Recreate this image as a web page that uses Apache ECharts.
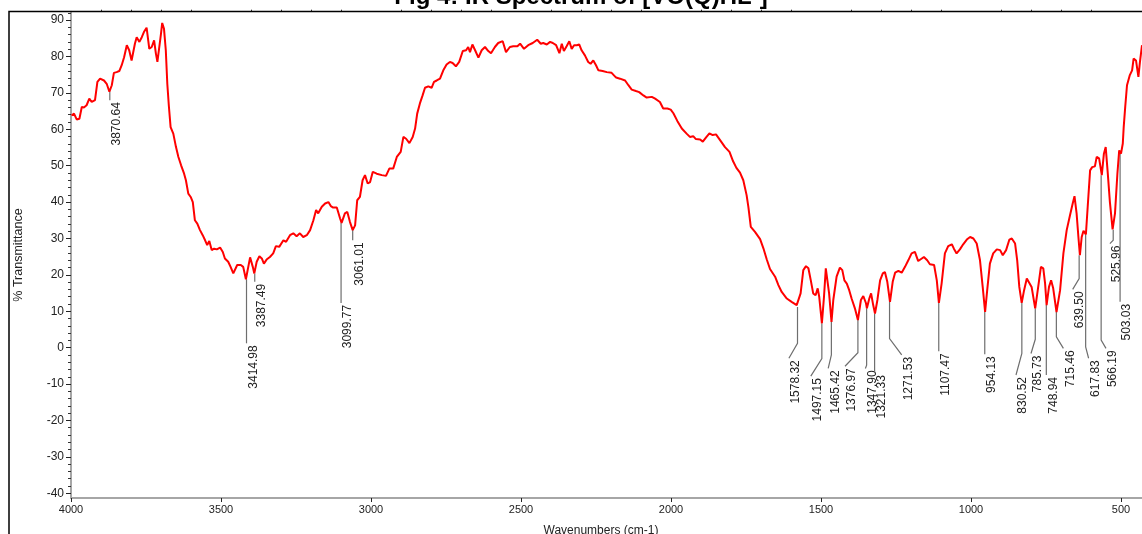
<!DOCTYPE html>
<html>
<head>
<meta charset="utf-8">
<style>
html,body{margin:0;padding:0;background:#fff;}
#chart{width:1142px;height:534px;}
</style>
<script src="https://cdn.jsdelivr.net/npm/echarts@6/dist/echarts.min.js"></script>
</head>
<body>
<div id="chart"></div>
<script>
// ---- data ----
const wavenumbers = [
3998,3990,3981,3972,3964,3957,3948,3939,3931,3920,
3912,3903,3890,3881,3872,3864,3857,3848,3839,3831,
3823,3814,3806,3798,3792,3787,3781,3772,3764,3757,
3748,3739,3731,3723,3717,3712,3706,3700,3696,3690,
3684,3679,3674,3668,3659,3650,3642,3633,3623,3617,
3609,3601,3594,3587,3579,3570,3561,3553,3546,3539,
3531,3523,3514,3503,3494,3487,3476,3468,3459,3446,
3434,3426,3417,3403,3394,3389,3381,3372,3364,3357,
3348,3337,3326,3317,3306,3292,3283,3270,3259,3248,
3237,3226,3214,3203,3192,3183,3176,3164,3153,3142,
3134,3126,3114,3103,3098,3087,3079,3070,3061,3053,
3046,3037,3028,3020,3011,3003,2994,2981,2964,2950,
2939,2926,2914,2901,2892,2883,2872,2861,2853,2846,
2837,2828,2820,2809,2798,2790,2781,2770,2759,2748,
2737,2728,2717,2706,2694,2683,2676,2670,2662,2653,
2642,2631,2620,2609,2600,2587,2576,2561,2550,2537,
2526,2512,2503,2490,2476,2461,2446,2434,2426,2414,
2403,2394,2383,2372,2364,2357,2348,2339,2331,2323,
2314,2306,2298,2287,2276,2268,2259,2250,2242,2228,
2214,2198,2183,2170,2153,2142,2131,2117,2106,2092,
2081,2064,2053,2037,2026,2012,2001,1992,1979,1964,
1948,1937,1926,1917,1903,1894,1883,1872,1861,1850,
1837,1820,1805,1793,1782,1770,1759,1748,1742,1734,
1720,1703,1692,1681,1670,1653,1642,1631,1614,1598,
1581,1576,1568,1559,1550,1542,1534,1526,1518,1511,
1506,1497,1490,1484,1479,1473,1465,1459,1448,1437,
1429,1422,1414,1406,1398,1387,1377,1367,1359,1350,
1347,1339,1333,1326,1320,1312,1303,1294,1287,1279,
1270,1261,1253,1242,1231,1220,1209,1198,1187,1176,
1164,1157,1146,1137,1123,1114,1107,1098,1087,1076,
1064,1057,1048,1037,1026,1014,1003,992,981,970,
961,953,946,937,926,914,903,894,883,872,
864,853,846,839,831,823,814,808,798,786,
776,767,759,753,748,740,733,726,715,703,
692,681,670,661,655,648,642,637,631,625,
617,611,603,596,587,581,573,564,557,551,
544,537,528,520,512,506,500,494,491,486,
480,471,463,458,450,442,437,430
];
const transmittance = [
63.8,64.3,62.7,62.9,66.1,66.0,66.6,68.4,67.5,68.0,
73.0,73.9,73.4,72.5,70.3,72.1,75.5,75.7,76.0,77.6,
79.8,83.1,81.7,78.9,78.5,83.5,85.3,84.0,85.3,86.7,
87.9,82.1,82.6,84.4,80.8,78.5,78.9,86.3,89.2,87.6,
81.7,72.5,66.6,60.6,58.8,55.1,52.4,50.1,47.8,46.0,
42.3,41.4,40.0,35.0,34.1,32.3,30.9,29.5,28.2,29.3,
26.8,27.2,27.0,27.5,26.3,24.5,23.6,22.2,20.4,22.7,
22.7,22.2,18.8,24.8,22.2,20.4,23.6,25.1,24.5,23.1,
24.2,24.9,25.9,27.9,27.7,29.5,29.1,30.9,31.4,30.6,
31.4,30.4,30.9,32.3,35.0,37.8,36.9,38.7,39.6,40.0,
38.9,38.5,38.5,35.5,34.3,36.9,37.3,34.5,32.3,33.6,
40.5,41.4,46.0,47.4,45.1,45.5,48.3,47.8,47.4,47.2,
49.2,49.2,52.4,53.8,57.9,57.4,56.2,57.9,60.2,64.3,
67.1,69.3,71.4,71.8,71.4,73.0,73.4,73.9,76.2,77.8,
78.5,78.2,77.3,78.5,81.5,81.7,82.6,81.2,83.3,81.7,
79.7,81.7,82.6,81.5,80.9,82.6,83.7,84.2,81.2,82.6,
82.8,82.8,83.5,82.1,83.1,83.7,84.6,83.5,83.7,83.3,
84.0,83.7,83.1,80.9,83.5,81.5,82.8,84.2,82.1,83.1,
83.1,83.3,81.7,80.3,78.5,78.0,78.9,77.6,76.2,76.0,
75.7,75.5,74.2,73.9,73.4,72.1,70.9,70.5,70.2,69.3,
68.7,68.9,68.4,67.5,65.7,65.7,65.4,64.4,62.3,60.2,
58.8,57.9,58.1,57.3,57.2,56.6,57.8,58.9,58.4,58.6,
57.1,55.1,53.8,51.2,49.4,48.1,46.0,41.9,38.6,33.2,
31.8,29.8,27.3,24.3,21.6,19.5,17.2,15.3,13.5,12.6,
11.7,11.2,14.9,21.3,22.4,21.8,18.5,14.9,14.4,16.3,
14.0,6.7,14.0,21.8,21.3,14.9,7.1,13.1,19.5,22.0,
21.3,18.5,17.6,15.8,13.5,10.8,7.6,13.1,14.2,12.2,
10.8,13.5,14.9,11.7,9.4,13.1,18.5,20.4,20.8,18.1,
12.6,18.1,20.6,21.1,20.6,22.2,24.0,25.9,26.3,23.8,
24.5,24.9,24.0,22.9,22.7,18.5,12.3,17.6,25.9,27.9,
28.4,27.2,25.9,27.0,28.4,29.7,30.4,30.0,28.6,24.0,
16.7,9.8,15.8,23.1,25.9,27.0,26.8,25.4,26.8,29.7,
30.0,28.6,24.0,16.7,12.3,15.8,19.0,19.5,16.7,10.8,
16.7,22.2,21.8,17.6,11.7,16.7,18.5,16.3,9.8,15.8,
25.9,32.3,36.4,39.6,41.6,36.9,30.4,25.4,30.4,32.1,
31.1,38.7,48.7,49.6,49.8,52.4,52.0,47.4,53.3,55.1,
47.8,40.0,32.5,36.9,47.8,54.2,53.3,56.1,60.6,66.1,
72.1,74.8,76.2,79.4,78.9,74.4,78.4,83.1
];

// peak annotations
const peakWavenumbers = [3870.64,3414.98,3387.49,3099.77,3061.01,1578.32,1497.15,1465.42,1376.97,1347.90,1321.33,1271.53,1107.47,954.13,830.52,785.73,748.94,715.46,639.50,617.83,566.19,525.96,503.03];
const peakTransmittance = [70.3,18.8,20.4,34.3,32.3,11.2,6.7,7.1,7.6,10.8,9.4,12.6,12.3,9.8,12.3,10.8,11.7,9.8,25.4,31.1,47.4,32.4,53.3];
// leader line: drops vertically to leaderBendT, then runs to (labelWavenumber, labelT)
const leaderBendT = [68.0,1.2,18.1,12.3,29.5,1.2,-3.0,-2.0,-1.4,-4.8,-7.0,2.5,-1.0,-1.8,-1.6,2.3,-7.5,3.0,19.0,0.2,2.1,29.5,12.6];
const labelWavenumber = [3870.64,3414.98,3387.49,3099.77,3061.01,1607,1534,1476,1420,1352,1321.33,1231,1107.47,954.13,850,800,748.94,692,661,608,550,537,503.03];
const labelT = [68.0,1.2,18.1,12.3,29.5,-2.9,-7.8,-5.7,-5.1,-5.7,-7.0,-2.0,-1.0,-1.8,-7.5,-1.6,-7.5,-0.2,16.0,-2.9,-0.2,28.6,12.6];

const xMajorTicks = [4000,3500,3000,2500,2000,1500,1000,500];
const xMinorTicks = [];
for (let v = 3900; v >= 500; v -= 100) if (v % 500 !== 0) xMinorTicks.push(v);
const yMajorTicks = [90,80,70,60,50,40,30,20,10,0,-10,-20,-30,-40];
const yMinorTicks = [];
for (let v = 92; v >= -40; v -= 2) if (v % 10 !== 0) yMinorTicks.push(v);

const titleText = 'Fig 4: IR Spectrum of [VO(Q)HL\u207B]';
const xName = 'Wavenumbers (cm-1)';
const yName = '% Transmittance';

// ---- chart ----
const FONT = '"Liberation Sans", Arial, sans-serif';
const chart = echarts.init(document.getElementById('chart'), null, {renderer: 'canvas'});

const X_MIN = 430, X_MAX = 4000, Y_MIN = -41.3, Y_MAX = 92.3;

const spectrum = wavenumbers.map((w, i) => [w, transmittance[i]]);
const peaks = peakWavenumbers.map((w, i) => [w, peakTransmittance[i]]);
const plain = v => String(Math.round(v));

const baseX = {
  type: 'value', min: X_MIN, max: X_MAX, inverse: true, gridIndex: 0,
  splitLine: {show: false}
};
const baseY = {
  type: 'value', min: Y_MIN, max: Y_MAX, gridIndex: 0, position: 'left',
  splitLine: {show: false}
};

chart.setOption({
  animation: false,
  backgroundColor: '#ffffff',
  grid: {left: 71, right: 0, top: 11.7, bottom: 36, containLabel: false, outerBoundsMode: 'none'},
  xAxis: [
    Object.assign({}, baseX, {
      axisLine: {show: true, onZero: false, lineStyle: {color: '#a6a6a6', width: 2}},
      axisTick: {show: true, customValues: xMajorTicks, length: 4, lineStyle: {color: '#222', width: 1}},
      axisLabel: {show: true, customValues: xMajorTicks, formatter: plain, fontSize: 11, color: '#222', margin: 6, fontFamily: FONT}
    }),
    Object.assign({}, baseX, {
      axisLine: {show: false, onZero: false},
      axisTick: {show: true, customValues: xMinorTicks, length: 2, lineStyle: {color: '#333', width: 1}},
      axisLabel: {show: false}
    })
  ],
  yAxis: [
    Object.assign({}, baseY, {
      axisLine: {show: true, onZero: false, lineStyle: {color: '#a6a6a6', width: 2}},
      axisTick: {show: true, customValues: yMajorTicks, length: 5, lineStyle: {color: '#222', width: 1}},
      axisLabel: {show: true, customValues: yMajorTicks, formatter: plain, fontSize: 12, color: '#222', margin: 7, fontFamily: FONT}
    }),
    Object.assign({}, baseY, {
      axisLine: {show: false, onZero: false},
      axisTick: {show: true, customValues: yMinorTicks, length: 3, lineStyle: {color: '#333', width: 1}},
      axisLabel: {show: false}
    })
  ],
  graphic: [
    {type: 'polyline', shape: {points: [[9, 534], [9, 11.5], [1142, 11.5]]},
     style: {stroke: '#000', lineWidth: 1.5, fill: null}, z: 100, silent: true},
    {type: 'text', x: 581, y: -2.5, silent: true,
     style: {text: titleText, align: 'center', verticalAlign: 'middle', fill: '#000', font: 'bold 24px ' + FONT}},
    {type: 'text', x: 18.5, y: 255, rotation: Math.PI / 2, silent: true,
     style: {text: yName, align: 'center', verticalAlign: 'middle', fill: '#222', font: '12.5px ' + FONT}},
    {type: 'text', x: 601, y: 531, silent: true,
     style: {text: xName, align: 'center', verticalAlign: 'middle', fill: '#222', font: '12px ' + FONT}}
  ],
  series: [
    {
      type: 'line', xAxisIndex: 0, yAxisIndex: 0, data: spectrum,
      showSymbol: false, symbol: 'none', smooth: false, silent: true,
      lineStyle: {color: '#ff0000', width: 2}, z: 3
    },
    {
      type: 'custom', xAxisIndex: 0, yAxisIndex: 0, data: peaks, silent: true, z: 2,
      renderItem: function (params, api) {
        const i = params.dataIndex;
        const p0 = api.coord([peakWavenumbers[i], peakTransmittance[i]]);
        const p1 = api.coord([peakWavenumbers[i], leaderBendT[i]]);
        const p2 = api.coord([labelWavenumber[i], labelT[i]]);
        return {
          type: 'group',
          children: [
            {type: 'polyline', shape: {points: [p0, p1, p2]},
             style: {stroke: '#6e6e6e', lineWidth: 1.2, fill: null}},
            {type: 'text', x: p2[0] + 7, y: p2[1] + 2, rotation: Math.PI / 2,
             style: {text: peakWavenumbers[i].toFixed(2), align: 'right', verticalAlign: 'middle',
                     fill: '#222', font: '12px ' + FONT}}
          ]
        };
      }
    }
  ]
});
</script>
</body>
</html>
